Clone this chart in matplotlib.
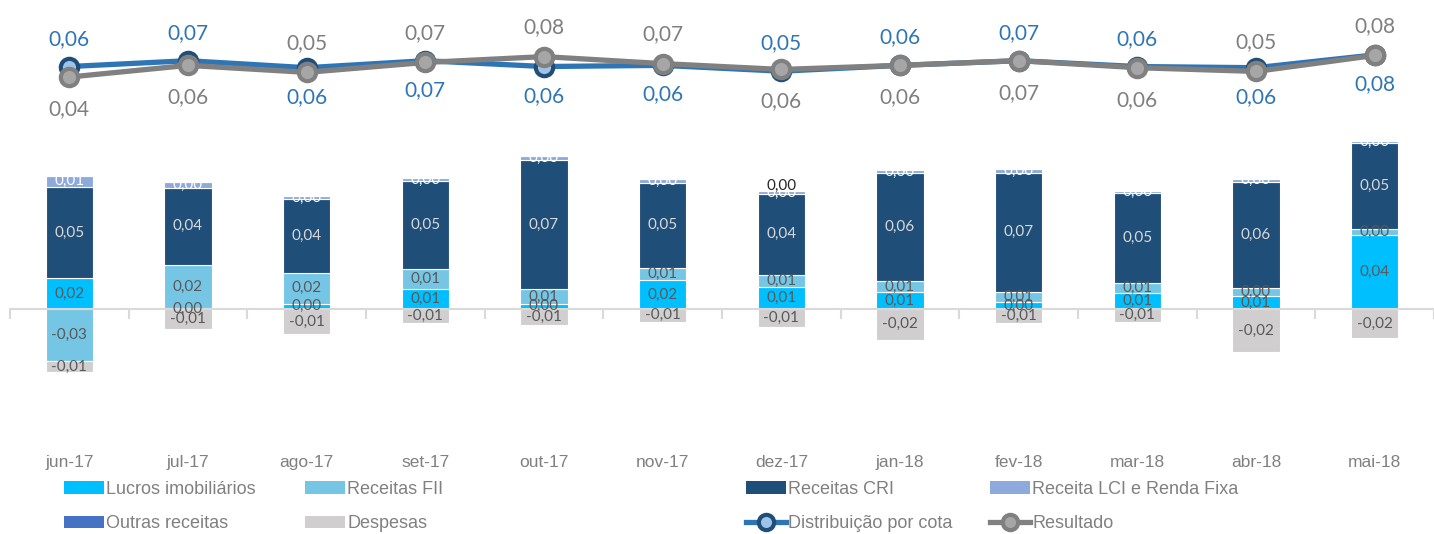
import numpy as np
import matplotlib
matplotlib.use('Agg')
import matplotlib.pyplot as plt
from matplotlib.patches import Patch
from matplotlib.lines import Line2D

months = ['jun-17', 'jul-17', 'ago-17', 'set-17', 'out-17', 'nov-17',
          'dez-17', 'jan-18', 'fev-18', 'mar-18', 'abr-18', 'mai-18']

lucros = [0.017, 0.0004, 0.003, 0.011, 0.003, 0.016, 0.012, 0.0094, 0.004, 0.009, 0.0072, 0.041]
receitas_fii = [-0.029, 0.024, 0.017, 0.011, 0.008, 0.007, 0.007, 0.006, 0.0056, 0.0055, 0.0044, 0.0033]
receitas_cri = [0.051, 0.043, 0.041, 0.049, 0.072, 0.047, 0.045, 0.060, 0.066, 0.050, 0.059, 0.048]
receita_lci = [0.006, 0.003, 0.002, 0.002, 0.002, 0.002, 0.0015, 0.0017, 0.002, 0.0012, 0.0017, 0.001]
outras = [0, 0.0006, 0, 0, 0, 0, 0.0003, 0, 0, 0, 0, 0]
despesas = [-0.006, -0.011, -0.014, -0.008, -0.009, -0.007, -0.010, -0.017, -0.008, -0.007, -0.024, -0.016]

distribuicao = [0.062, 0.072, 0.060, 0.072, 0.062, 0.064, 0.054, 0.064, 0.072, 0.062, 0.060, 0.082]
resultado = [0.044, 0.064, 0.052, 0.069, 0.079, 0.067, 0.057, 0.064, 0.072, 0.060, 0.0536, 0.081]
# where the Distribuição label sits (Resultado goes the other way)
dist_above = [True, True, False, False, False, False, True, True, True, True, False, False]
outras_label = [False, False, False, False, False, False, True, False, False, False, False, False]

label_font = ['Lato', 'DejaVu Sans']
axis_font = ['Liberation Sans', 'DejaVu Sans']


def fmt(v):
    return f"{v:.2f}".replace('.', ',')


fig = plt.figure(figsize=(14.34, 5.34), dpi=100)
ax = fig.add_axes([10 / 1434, 1 - 453 / 534, 1424 / 1434, 432 / 534])

x = np.arange(len(months))
w = 0.4
series = [
    ('Lucros imobiliários', lucros, '#00BFFF', '#595959'),
    ('Receitas FII', receitas_fii, '#75C5E5', '#595959'),
    ('Receitas CRI', receitas_cri, '#1F4E79', '#D9D9D9'),
    ('Receita LCI e Renda Fixa', receita_lci, '#8EA9DB', 'white'),
    ('Outras receitas', outras, '#4472C4', '#262626'),
    ('Despesas', despesas, '#D0CECE', '#595959'),
]

pos_bottom = np.zeros(len(months))
neg_bottom = np.zeros(len(months))
for name, vals, color, tcolor in series:
    vals = np.array(vals)
    bottom = np.where(vals >= 0, pos_bottom, neg_bottom)
    ax.bar(x, vals, w, bottom=bottom, color=color, edgecolor='white', linewidth=0.8, zorder=2)
    for i, v in enumerate(vals):
        if name == 'Outras receitas':
            if outras_label[i]:
                ax.text(x[i], bottom[i] + v + 0.0025, fmt(v), ha='center', va='center',
                        color=tcolor, fontsize=11, family=label_font, zorder=5)
            continue
        ax.text(x[i], bottom[i] + v / 2, fmt(v), ha='center', va='center',
                color=tcolor, fontsize=11, family=label_font, zorder=5)
    pos_bottom = pos_bottom + np.where(vals >= 0, vals, 0)
    neg_bottom = neg_bottom + np.where(vals < 0, vals, 0)

ax.set_xlim(-0.5, 11.5)
ax.set_ylim(-0.08, 0.16)
ax.set_yticks([])
for s in ['top', 'left', 'right']:
    ax.spines[s].set_visible(False)
ax.spines['bottom'].set_position(('data', 0))
ax.spines['bottom'].set_color('#D9D9D9')
ax.spines['bottom'].set_linewidth(1.5)
ax.set_xticks(np.arange(-0.5, 12, 1))
ax.set_xticklabels([])
ax.tick_params(axis='x', direction='out', length=7, width=1.5, color='#D9D9D9')
for i, m in enumerate(months):
    ax.text(x[i], -0.021, m, transform=ax.get_xaxis_transform(), ha='center', va='center',
            color='#808080', fontsize=12.5, family=axis_font)

ax2 = ax.twinx()
ax2.set_ylim(-0.6, 0.14)
ax2.set_yticks([])
for s in ax2.spines.values():
    s.set_visible(False)
ax2.plot(x, distribuicao, color='#2E75B6', lw=3.8, marker='o', ms=12.5,
         mfc='#9DC3E6', mec='#1F4E79', mew=3, zorder=3)
ax2.plot(x, resultado, color='#808080', lw=3.8, marker='o', ms=12.5,
         mfc='#A6A6A6', mec='#808080', mew=3, zorder=4)
for i in range(len(months)):
    d_off = 20 if dist_above[i] else -21
    r_off = -23 if dist_above[i] else 21
    ax2.annotate(fmt(distribuicao[i]), (x[i], distribuicao[i]), xytext=(0, d_off),
                 textcoords='offset points', ha='center', va='center',
                 color='#2E75B6', fontsize=15, family=label_font)
    ax2.annotate(fmt(resultado[i]), (x[i], resultado[i]), xytext=(0, r_off),
                 textcoords='offset points', ha='center', va='center',
                 color='#7F7F7F', fontsize=15, family=label_font)

# legend: four columns placed separately
h = {name: Patch(facecolor=color, edgecolor='none') for name, _, color, _ in series}
h['Distribuição por cota'] = Line2D([], [], color='#2E75B6', lw=3.8, marker='o', ms=11,
                                    mfc='#9DC3E6', mec='#1F4E79', mew=3)
h['Resultado'] = Line2D([], [], color='#808080', lw=3.8, marker='o', ms=11,
                        mfc='#A6A6A6', mec='#808080', mew=3)
columns = [
    (64, ['Lucros imobiliários', 'Outras receitas']),
    (305, ['Receitas FII', 'Despesas']),
    (746, ['Receitas CRI', 'Distribuição por cota']),
    (990, ['Receita LCI e Renda Fixa', 'Resultado']),
]
for xpos, names in columns:
    leg = fig.legend([h[n] for n in names], names, loc='upper left',
                     bbox_to_anchor=(xpos / 1434, 1 - 481 / 534), frameon=False,
                     borderpad=0, borderaxespad=0, handlelength=2.2, handleheight=0.7,
                     handletextpad=0.15, labelspacing=0.95,
                     prop={'family': axis_font, 'size': 13})
    for t in leg.get_texts():
        t.set_color('#808080')

fig.savefig('out.png', dpi=100)
